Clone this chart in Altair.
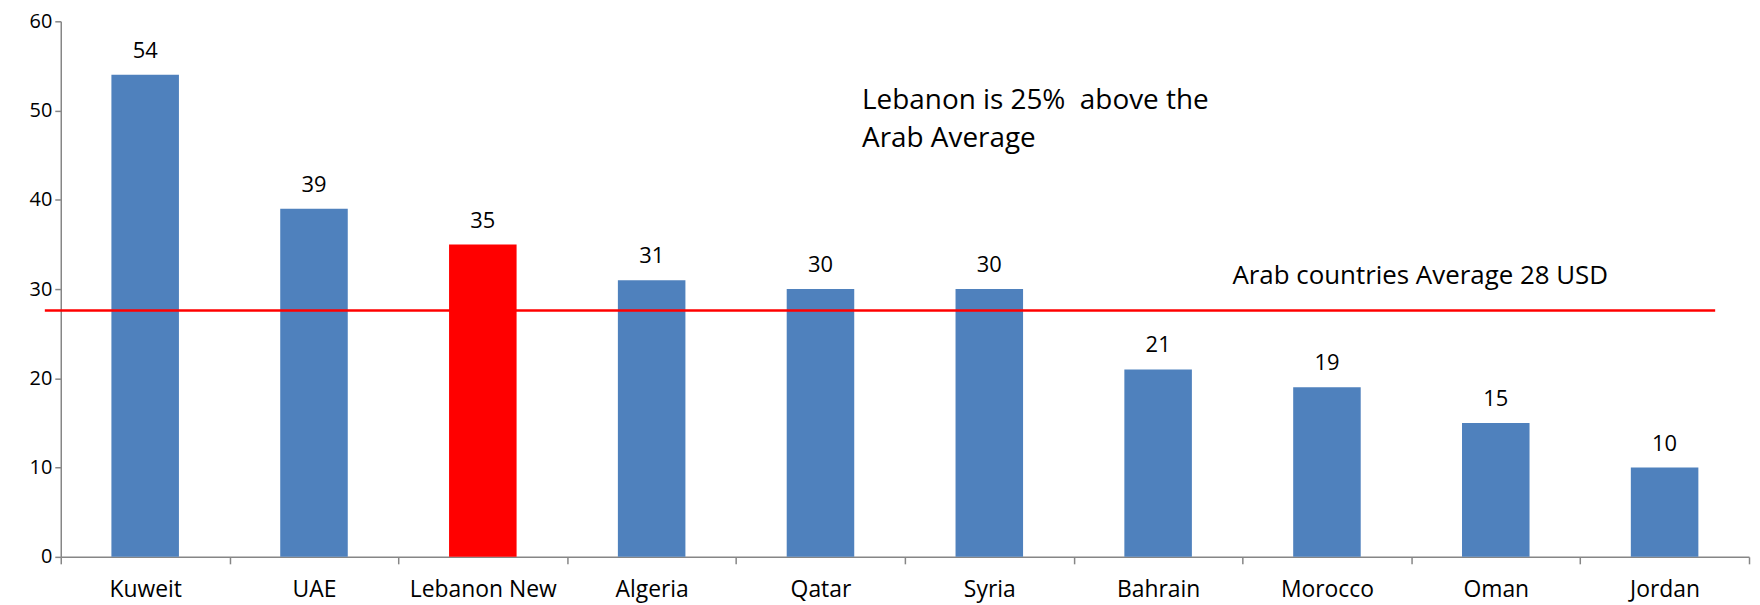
import altair as alt
import pandas as pd

countries = ["Kuweit", "UAE", "Lebanon New", "Algeria", "Qatar", "Syria",
             "Bahrain", "Morocco", "Oman", "Jordan"]
values = [54, 39, 35, 31, 30, 30, 21, 19, 15, 10]
highlight = ["no", "no", "yes", "no", "no", "no", "no", "no", "no", "no"]
average = [27.6]
note_lines = ["Lebanon is 25%\u00a0 above the", "Arab Average"]
note_y = [51.1, 46.8]
avg_label = ["Arab countries Average 28 USD"]
avg_label_y = [31.5]

FONT = "Open Sans"

df = pd.DataFrame({"country": countries, "value": values, "hl": highlight})
avg_df = pd.DataFrame({"avg": average})
note_df = pd.DataFrame({"text": note_lines, "y": note_y})
avg_lab_df = pd.DataFrame({"text": avg_label, "y": avg_label_y})

W, H = 1696, 538

xenc = alt.X("country:N", sort=countries, title=None,
             scale=alt.Scale(paddingInner=0, paddingOuter=0),
             axis=alt.Axis(labelAngle=0, labelFont=FONT, labelFontSize=23,
                           labelColor="#000000", labelPadding=33,
                           labelBaseline="alphabetic",
                           tickSize=7, tickColor="#868686", tickWidth=1.5,
                           tickBand="extent", domainColor="#868686",
                           domainWidth=1.5, grid=False))
yscale = alt.Scale(domain=[0, 60], nice=False)

bars = alt.Chart(df).mark_bar(width=alt.RelativeBandSize(0.4)).encode(
    x=xenc,
    y=alt.Y("value:Q", scale=yscale, title=None,
            axis=alt.Axis(values=[0, 10, 20, 30, 40, 50, 60], labelFont=FONT,
                          labelFontSize=20, labelColor="#000000",
                          tickSize=6, tickColor="#868686", tickWidth=1.5,
                          domainColor="#868686", domainWidth=1.5,
                          labelPadding=3, grid=False)),
    color=alt.Color("hl:N", scale=alt.Scale(domain=["no", "yes"],
                                            range=["#4F81BD", "#FF0000"]),
                    legend=None),
)

labels = alt.Chart(df).mark_text(font=FONT, fontSize=22, baseline="alphabetic",
                                 dy=-17, color="#000000").encode(
    x=alt.X("country:N", sort=countries),
    y=alt.Y("value:Q", scale=yscale),
    text="value:Q",
)

rule = alt.Chart(avg_df).mark_rule(color="#FF0000", strokeWidth=2.5).encode(
    y=alt.Y("avg:Q", scale=yscale),
    x=alt.value(-16),
    x2=alt.value(1662),
)

note = alt.Chart(note_df).mark_text(font=FONT, fontSize=28, align="left",
                                    baseline="middle", color="#000000").encode(
    x=alt.value(805),
    y=alt.Y("y:Q", scale=yscale),
    text="text:N",
)

avg_text = alt.Chart(avg_lab_df).mark_text(font=FONT, fontSize=26, align="left",
                                           baseline="middle", color="#000000").encode(
    x=alt.value(1177),
    y=alt.Y("y:Q", scale=yscale),
    text="text:N",
)

chart = alt.layer(bars, labels, rule, note, avg_text).properties(
    width=W, height=H,
    autosize=alt.AutoSizeParams(type="none"),
    padding={"left": 53, "top": 12, "right": 3, "bottom": 47},
).configure_view(stroke=None)

chart.save("out.html", embed_options={"renderer": "svg", "actions": False})
